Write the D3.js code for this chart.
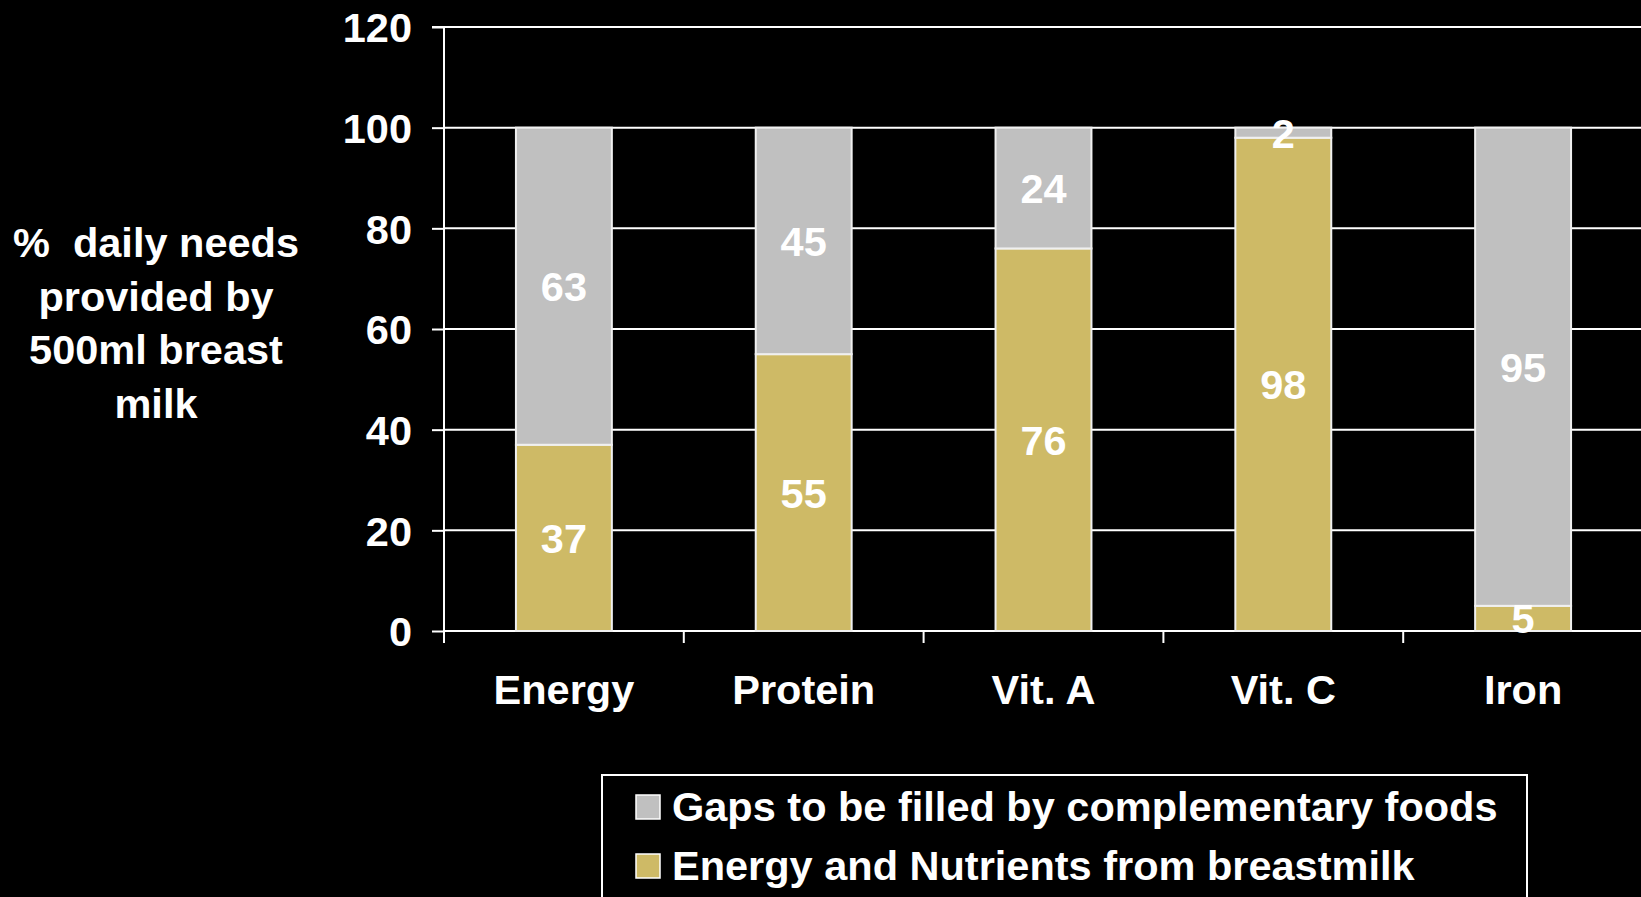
<!DOCTYPE html>
<html>
<head>
<meta charset="utf-8">
<script src="https://cdn.jsdelivr.net/npm/d3@7"></script>
<style>
  html, body { margin: 0; padding: 0; background: #000; overflow: hidden; }
  svg { display: block; }
  text { font-family: "Liberation Sans", Arial, sans-serif; font-weight: bold; fill: #fff; }
</style>
</head>
<body>
<svg id="chart" width="1641" height="897"></svg>
<script>
const categories = ["Energy", "Protein", "Vit. A", "Vit. C", "Iron"];
const breastmilk = [37, 55, 76, 98, 5];
const gaps = [63, 45, 24, 2, 95];
const yTicks = [0, 20, 40, 60, 80, 100, 120];
const seriesNames = ["Gaps to be filled by complementary foods", "Energy and Nutrients from breastmilk"];
const seriesColors = ["#C0C0C0", "#CEBA66"];
const yTitleLines = ["%  daily needs", "provided by", "500ml breast", "milk"];

(function () {
const W = 1641, H = 897;
const FS = "41.5px";
const svg = d3.select("#chart");
svg.append("rect").attr("width", W).attr("height", H).attr("fill", "#000");

const pLeft = 444, pRight = 1643, pTop = 27, pBottom = 631;

const x = d3.scaleBand().domain(categories).range([pLeft, pRight]).paddingInner(0.6).paddingOuter(0.3);
const y = d3.scaleLinear().domain([0, 120]).range([pBottom, pTop]);

// gridlines
svg.append("g").selectAll("line").data(yTicks).join("line")
  .attr("x1", pLeft).attr("x2", W)
  .attr("y1", d => y(d)).attr("y2", d => y(d))
  .attr("stroke", "#fff").attr("stroke-width", 2);

// y axis
const yAxis = svg.append("g").attr("transform", `translate(${pLeft},0)`)
  .call(d3.axisLeft(y).tickValues(yTicks).tickSize(12).tickPadding(20));
yAxis.select(".domain").attr("stroke", "#fff").attr("stroke-width", 2).attr("d", `M-12,${y(120)}H0V${y(0)}`);
yAxis.selectAll(".tick line").attr("stroke", "#fff").attr("stroke-width", 2);
yAxis.selectAll(".tick text").attr("fill", "#fff").style("font-size", FS).style("font-family", "'Liberation Sans', Arial, sans-serif").style("font-weight", "bold").attr("dy", "0.36em");

// x axis line & boundary ticks
const step = x.step();
const boundaries = categories.map(c => x(c) - (step - x.bandwidth()) / 2);
boundaries.push(boundaries[boundaries.length - 1] + step);
svg.append("line").attr("x1", pLeft).attr("x2", W).attr("y1", y(0)).attr("y2", y(0))
  .attr("stroke", "#fff").attr("stroke-width", 2);
svg.append("g").selectAll("line").data(boundaries).join("line")
  .attr("x1", d => d).attr("x2", d => d)
  .attr("y1", y(0)).attr("y2", y(0) + 12)
  .attr("stroke", "#fff").attr("stroke-width", 2);

// category labels
svg.append("g").selectAll("text").data(categories).join("text")
  .attr("x", d => x(d) + x.bandwidth() / 2)
  .attr("y", 704)
  .attr("text-anchor", "middle")
  .style("font-size", FS)
  .text(d => d);

// stacked bars
const rows = categories.map((c, i) => ({ cat: c, milk: breastmilk[i], gap: gaps[i] }));
const stack = d3.stack().keys(["milk", "gap"])(rows);
const colorByKey = { milk: seriesColors[1], gap: seriesColors[0] };

stack.forEach(layer => {
  svg.append("g").selectAll("rect").data(layer).join("rect")
    .attr("x", d => x(d.data.cat))
    .attr("width", x.bandwidth())
    .attr("y", d => y(d[1]))
    .attr("height", d => y(d[0]) - y(d[1]))
    .attr("fill", colorByKey[layer.key])
    .attr("stroke", "#f0f0f0").attr("stroke-width", 2);
});
stack.forEach(layer => {
  svg.append("g").selectAll("text").data(layer).join("text")
    .attr("x", d => x(d.data.cat) + x.bandwidth() / 2)
    .attr("y", d => (y(d[0]) + y(d[1])) / 2)
    .attr("dy", "0.36em")
    .attr("text-anchor", "middle")
    .style("font-size", FS)
    .text(d => d[1] - d[0]);
});

// y title
svg.append("text")
  .attr("x", 156).attr("y", 257)
  .attr("text-anchor", "middle")
  .style("font-size", FS)
  .style("white-space", "pre")
  .selectAll("tspan").data(yTitleLines).join("tspan")
  .attr("x", 156).attr("dy", (d, i) => i === 0 ? 0 : 53.5)
  .text(d => d);

// legend
const lg = svg.append("g");
lg.append("rect").attr("x", 602).attr("y", 775).attr("width", 925).attr("height", 160)
  .attr("fill", "#000").attr("stroke", "#fff").attr("stroke-width", 2);
const legendY = [821, 880];
seriesNames.forEach((name, i) => {
  lg.append("rect").attr("x", 636).attr("y", legendY[i] - 26).attr("width", 24).attr("height", 24)
    .attr("fill", seriesColors[i]).attr("stroke", "#fff").attr("stroke-width", 1.5);
  lg.append("text").attr("x", 672).attr("y", legendY[i]).style("font-size", FS).text(name);
});
})();
</script>
</body>
</html>
